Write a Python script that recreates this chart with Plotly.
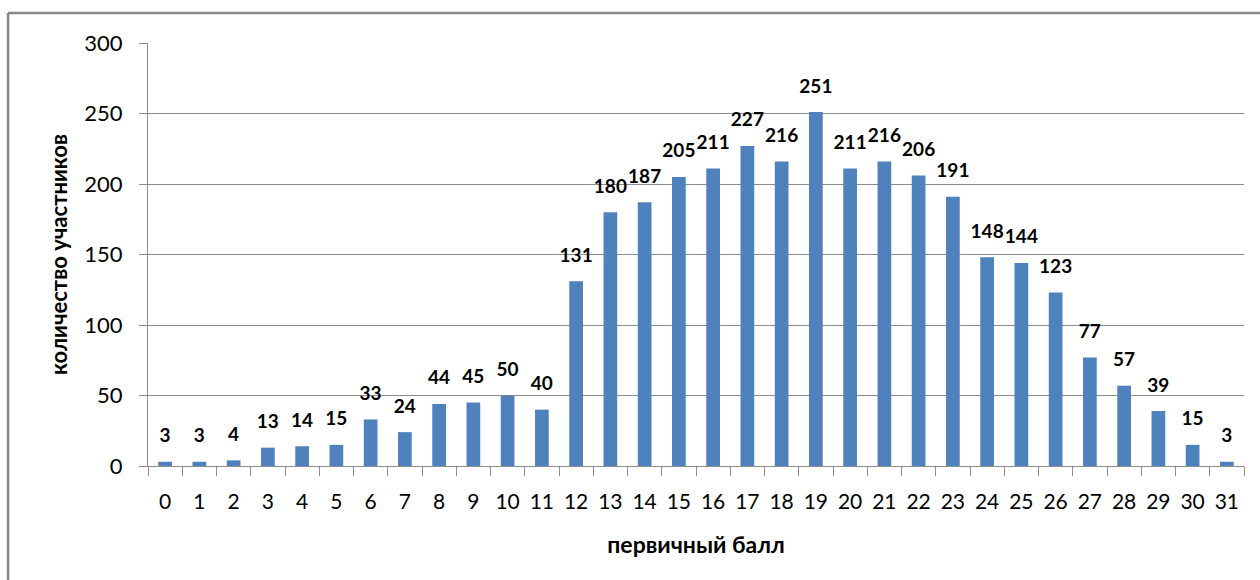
import plotly.graph_objects as go

categories = [str(i) for i in range(32)]
values = [3, 3, 4, 13, 14, 15, 33, 24, 44, 45, 50, 40, 131, 180, 187, 205,
          211, 227, 216, 251, 211, 216, 206, 191, 148, 144, 123, 77, 57, 39, 15, 3]
y_ticks = [0, 50, 100, 150, 200, 250, 300]

FONT = "Lato"
GRID = "#8c8c8c"

fig = go.Figure()
fig.add_trace(go.Bar(
    x=categories, y=values,
    marker=dict(color="#4F81BD", line=dict(width=0)),
    width=0.4,
    hoverinfo="skip",
))
fig.add_trace(go.Scatter(
    x=categories, y=values,
    mode="markers+text",
    marker=dict(size=22, opacity=0),
    text=[str(v) for v in values],
    textposition="top center",
    textfont=dict(family=FONT, size=19, color="#000000", weight="bold"),
    cliponaxis=False,
    hoverinfo="skip",
))

fig.update_layout(
    width=1260, height=580,
    margin=dict(l=148, r=16, t=43, b=114),
    paper_bgcolor="white", plot_bgcolor="white",
    showlegend=False,
    font=dict(family=FONT, color="#000000"),
    shapes=[
        dict(type="line", xref="paper", yref="paper",
             x0=-0.1277, x1=1.2, y0=1.0709, y1=1.0709,
             line=dict(color="#878787", width=2.5)),
        dict(type="line", xref="paper", yref="paper",
             x0=-0.1277, x1=-0.1277, y0=1.0709, y1=-0.5,
             line=dict(color="#878787", width=2.5)),
    ],
)
fig.update_xaxes(
    type="category",
    range=[-0.5, 31.5],
    showline=True, linecolor=GRID, linewidth=1,
    ticks="outside", ticklen=9, tickcolor=GRID,
    tickson="boundaries",
    tickangle=0,
    tickfont=dict(family=FONT, size=21, color="#000000"),
    ticklabelstandoff=17,
    title=dict(text="первичный балл", font=dict(family=FONT, size=23, weight="bold"),
               standoff=24),
    showgrid=False,
    automargin=False,
)
fig.update_yaxes(
    range=[0, 300],
    tickvals=y_ticks,
    showline=True, linecolor=GRID, linewidth=1,
    ticks="outside", ticklen=8, tickcolor=GRID,
    showgrid=True, gridcolor=GRID, gridwidth=1,
    zeroline=False,
    tickfont=dict(family=FONT, size=22, color="#000000"),
    ticklabelstandoff=12,
    title=dict(text="количество участников", font=dict(family=FONT, size=22, weight="bold"),
               standoff=10),
    automargin=False,
)

fig.write_html("out.html", config={"displayModeBar": False},
               post_script="document.body.style.margin='0';document.body.style.overflow='hidden';")
